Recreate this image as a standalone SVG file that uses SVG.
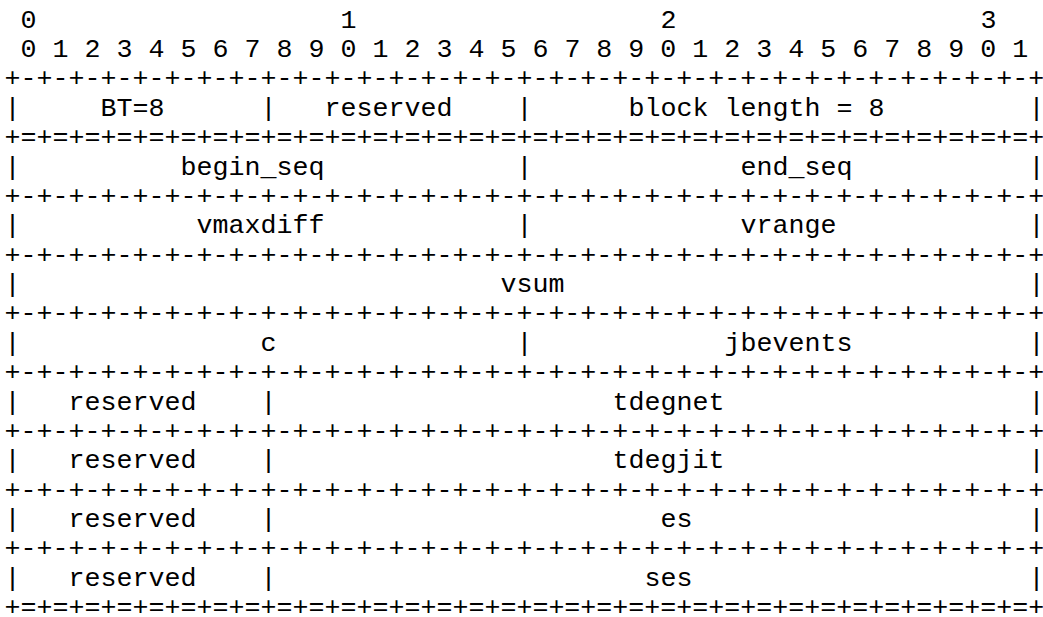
<svg xmlns="http://www.w3.org/2000/svg" width="1043" height="617" viewBox="0 0 1043 617" xml:space="preserve">
<style>
text { font-family: "Liberation Mono", "Courier New", monospace; font-size: 26.67px; fill: #000; white-space: pre; }
</style>
<defs>
<text id="sepd">+-+-+-+-+-+-+-+-+-+-+-+-+-+-+-+-+-+-+-+-+-+-+-+-+-+-+-+-+-+-+-+-+</text>
<text id="sepe">+=+=+=+=+=+=+=+=+=+=+=+=+=+=+=+=+=+=+=+=+=+=+=+=+=+=+=+=+=+=+=+=+</text>
<text id="bar">|</text>
</defs>
<rect width="1043" height="617" fill="#fff"/>
<g id="ruler">
<text x="20.5" y="27.6">0</text>
<text x="340.5" y="27.6">1</text>
<text x="660.5" y="27.6">2</text>
<text x="980.5" y="27.6">3</text>
<text x="20.5" y="57">0 1 2 3 4 5 6 7 8 9 0 1 2 3 4 5 6 7 8 9 0 1 2 3 4 5 6 7 8 9 0 1</text>
</g>
<g id="connectors">
<use href="#sepd" x="4.5" y="86.4"/>
<use href="#sepe" x="4.5" y="145.1"/>
<use href="#sepd" x="4.5" y="203.9"/>
<use href="#sepd" x="4.5" y="262.6"/>
<use href="#sepd" x="4.5" y="321.4"/>
<use href="#sepd" x="4.5" y="380.1"/>
<use href="#sepd" x="4.5" y="438.9"/>
<use href="#sepd" x="4.5" y="497.6"/>
<use href="#sepd" x="4.5" y="556.4"/>
<use href="#sepe" x="4.5" y="615.1"/>
<g id="bars">
<use href="#bar" x="4.5" y="115.7"/><use href="#bar" x="260.5" y="115.7"/><use href="#bar" x="516.5" y="115.7"/><use href="#bar" x="1028.5" y="115.7"/>
<use href="#bar" x="4.5" y="174.5"/><use href="#bar" x="516.5" y="174.5"/><use href="#bar" x="1028.5" y="174.5"/>
<use href="#bar" x="4.5" y="233.2"/><use href="#bar" x="516.5" y="233.2"/><use href="#bar" x="1028.5" y="233.2"/>
<use href="#bar" x="4.5" y="292"/><use href="#bar" x="1028.5" y="292"/>
<use href="#bar" x="4.5" y="350.7"/><use href="#bar" x="516.5" y="350.7"/><use href="#bar" x="1028.5" y="350.7"/>
<use href="#bar" x="4.5" y="409.5"/><use href="#bar" x="260.5" y="409.5"/><use href="#bar" x="1028.5" y="409.5"/>
<use href="#bar" x="4.5" y="468.2"/><use href="#bar" x="260.5" y="468.2"/><use href="#bar" x="1028.5" y="468.2"/>
<use href="#bar" x="4.5" y="527"/><use href="#bar" x="260.5" y="527"/><use href="#bar" x="1028.5" y="527"/>
<use href="#bar" x="4.5" y="585.7"/><use href="#bar" x="260.5" y="585.7"/><use href="#bar" x="1028.5" y="585.7"/>
</g>
</g>
<g id="field-bt"><text x="100.5" y="115.7">BT=8</text></g>
<g id="field-reserved-0"><text x="324.5" y="115.7">reserved</text></g>
<g id="field-block-length"><text x="628.5" y="115.7">block length = 8</text></g>
<g id="field-begin-seq"><text x="180.5" y="174.5">begin_seq</text></g>
<g id="field-end-seq"><text x="740.5" y="174.5">end_seq</text></g>
<g id="field-vmaxdiff"><text x="196.5" y="233.2">vmaxdiff</text></g>
<g id="field-vrange"><text x="740.5" y="233.2">vrange</text></g>
<g id="field-vsum"><text x="500.5" y="292">vsum</text></g>
<g id="field-c"><text x="260.5" y="350.7">c</text></g>
<g id="field-jbevents"><text x="724.5" y="350.7">jbevents</text></g>
<g id="field-reserved-1"><text x="68.5" y="409.5">reserved</text></g>
<g id="field-tdegnet"><text x="612.5" y="409.5">tdegnet</text></g>
<g id="field-reserved-2"><text x="68.5" y="468.2">reserved</text></g>
<g id="field-tdegjit"><text x="612.5" y="468.2">tdegjit</text></g>
<g id="field-reserved-3"><text x="68.5" y="527">reserved</text></g>
<g id="field-es"><text x="660.5" y="527">es</text></g>
<g id="field-reserved-4"><text x="68.5" y="585.7">reserved</text></g>
<g id="field-ses"><text x="644.5" y="585.7">ses</text></g>
</svg>
